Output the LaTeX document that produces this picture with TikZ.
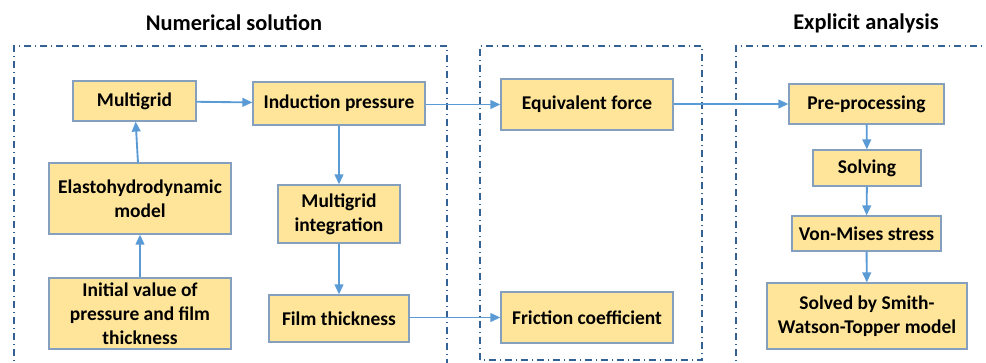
\documentclass[tikz,border=0pt]{standalone}
\usepackage{fontspec}
\setmainfont{Carlito}
\usetikzlibrary{arrows.meta}
\definecolor{boxfill}{RGB}{255,229,153}
\definecolor{boxline}{RGB}{132,160,190}
\definecolor{arrowc}{RGB}{91,155,213}
\definecolor{framec}{RGB}{52,98,148}
\begin{document}
\begin{tikzpicture}[x=0.75pt,y=-0.75pt,
  blk/.style={draw=boxline, fill=boxfill, line width=0.9pt, align=center, inner sep=0pt,
    font=\fontsize{14.6}{17.8}\selectfont\bfseries},
  frame/.style={draw=framec, line width=0.9pt, dash pattern=on 5pt off 3pt on 1pt off 3pt},
  flow/.style={draw=arrowc, line width=1.4pt, -{Triangle[length=7.5pt,width=6.5pt]}},
  ttl/.style={font=\fontsize{16.8}{20}\selectfont\bfseries, inner sep=0pt}]
\useasboundingbox (0,0) rectangle (986,362);
% frames
\draw[frame] (14,372) -- (14,46) -- (447,46) -- (447,372);
\draw[frame] (480,360) rectangle (702,46);
\draw[frame] (736,372) -- (736,46) -- (996,46);
% titles
\node[ttl] (t1) at (234,23) {Numerical solution};
\node[ttl] (t2) at (866,23) {Explicit analysis};
% boxes
\node[blk, minimum width=123*0.75pt, minimum height=40*0.75pt] (mg) at (134.5,101) {Multigrid};
\node[blk, minimum width=172*0.75pt, minimum height=43*0.75pt] (ip) at (339,103.5) {Induction pressure};
\node[blk, minimum width=182*0.75pt, minimum height=71*0.75pt] (eh) at (140,198.5) {Elastohydrodynamic\\model};
\node[blk, minimum width=182*0.75pt, minimum height=71*0.75pt] (iv) at (140,313.5) {Initial value of\\pressure and film\\thickness};
\node[blk, minimum width=122*0.75pt, minimum height=58*0.75pt] (mi) at (339,214) {Multigrid\\integration};
\node[blk, minimum width=140*0.75pt, minimum height=47*0.75pt] (ft) at (339,318.5) {Film thickness};
\node[blk, minimum width=172*0.75pt, minimum height=51*0.75pt] (ef) at (587,104.5) {Equivalent force};
\node[blk, minimum width=172*0.75pt, minimum height=51*0.75pt] (fc) at (587,317.5) {Friction coefficient};
\node[blk, minimum width=155*0.75pt, minimum height=40*0.75pt] (pp) at (866.5,104) {Pre-processing};
\node[blk, minimum width=108*0.75pt, minimum height=36*0.75pt] (sv) at (867,168) {Solving};
\node[blk, minimum width=149*0.75pt, minimum height=35*0.75pt] (vm) at (866.5,233.5) {Von-Mises stress};
\node[blk, minimum width=200*0.75pt, minimum height=66*0.75pt] (swt) at (867,316) {Solved by Smith-\\Watson-Topper model};
% arrows
\draw[flow] (iv) -- (eh);
\draw[flow] (eh) -- (mg);
\draw[flow] (mg) -- (ip);
\draw[flow] (ip) -- (mi);
\draw[flow] (mi) -- (ft);
\draw[flow] (ip.east |- ef.west) -- (ef.west);
\draw[flow] (ef.east |- pp.west) -- (pp.west);
\draw[flow] (ft.east |- fc.west) -- (fc.west);
\draw[flow] (pp) -- (sv);
\draw[flow] (sv) -- (vm);
\draw[flow] (vm) -- (swt);
\end{tikzpicture}
\end{document}
